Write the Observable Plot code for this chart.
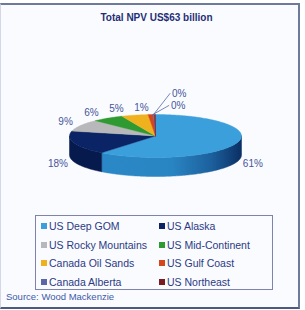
<!DOCTYPE html>
<html><head><meta charset="utf-8">
<script src="https://cdn.jsdelivr.net/npm/d3@7"></script>
<script src="https://cdn.jsdelivr.net/npm/@observablehq/plot@0.6"></script>
<style>
html,body{margin:0;padding:0;background:#fff;}
#wrap{position:relative;width:305px;height:310px;overflow:hidden;font-family:Arial,"Liberation Sans",sans-serif;}
#frame{position:absolute;left:0;top:3px;width:300px;height:306px;box-sizing:border-box;border-top:2px solid #6d7a9c;border-right:2px solid #6d7a9c;border-bottom:2px solid #4c5a80;border-left:1px solid #d4d8e6;background:#fafbfe;}
#chart{position:absolute;left:0;top:0;}
#legend{position:absolute;left:35px;top:215px;width:238px;height:75px;box-sizing:border-box;border:1px solid #7d83ad;display:grid;grid-template-columns:118px 1fr;grid-auto-rows:18.5px;padding:1px 0 0 5px;}
.item{display:flex;align-items:center;font-size:10.5px;color:#2b3a85;white-space:nowrap;}
.sw{width:6px;height:6px;margin-right:2px;flex:none;}
#source{position:absolute;left:6px;top:291px;font-size:9.5px;color:#3d5aa8;white-space:nowrap;}
</style>
</head><body>
<div id="wrap"><div id="frame"></div><div id="chart"></div><div id="legend"></div><div id="source"></div></div>
<script>
// ---- data ----
const categories = ["US Deep GOM","US Alaska","US Rocky Mountains","US Mid-Continent","Canada Oil Sands","US Gulf Coast","Canada Alberta","US Northeast"];
const npvShare = [61, 18, 9, 6, 5, 1, 0.2, 0.2];
const sliceColors = ["#3a9fdb","#0a2466","#b8b8ba","#2f9a31","#efb21e","#d6461c","#5a66a6","#7a1a22"];
const titleText = "Total NPV US$63 billion";
const sourceText = "Source: Wood Mackenzie";

// ---- layout ----
const W = 305, H = 200;
const cx = 155, cy = 135.5, rx = 86, ry = 21.5, depthPx = 19;
const D = depthPx / ry;
const ux = px => (px - cx) / rx;
const uy = py => (py - cy) / ry;

const total = d3.sum(npvShare);
const arcs = d3.pie().sort(null).value(d => d)(npvShare);
const step = Math.PI / 180;
function arcPts(a1, a2, off) {
  const n = Math.max(2, Math.ceil(Math.abs(a2 - a1) / step));
  return d3.range(n + 1).map(i => { const a = a1 + (a2 - a1) * i / n; return {x: Math.sin(a), y: -Math.cos(a) + off}; });
}
const tops = [], walls = [];
arcs.forEach((a, i) => {
  const key = categories[i];
  [{x:0,y:0}, ...arcPts(a.startAngle, a.endAngle, 0), {x:0,y:0}].forEach(p => tops.push({...p, key}));
  const lo = Math.max(a.startAngle, Math.PI/2), hi = Math.min(a.endAngle, 3*Math.PI/2);
  if (hi > lo) {
    const pts = [...arcPts(lo, hi, 0), ...arcPts(hi, lo, D)];
    pts.push(pts[0]);
    pts.forEach(p => walls.push({...p, key}));
  }
});

// labels
const labels = arcs.map((a, i) => {
  const m = (a.startAngle + a.endAngle) / 2;
  const pct = a.value / total * 100;
  const c = Math.cos(m), s = Math.sin(m);
  return {i, m, pct, text: Math.round(pct) + "%", x: 1.2 * s, y: -1.3 * c + (c < 0 ? D : 0), back: c > 0.6, zero: pct < 0.5};
});
// spread back labels leftwards to avoid overlap
const backs = labels.filter(l => l.back && !l.zero);
let limit = ux(cx - 14);
for (let j = backs.length - 1; j >= 0; j--) {
  backs[j].x = Math.min(backs[j].x, limit);
  limit = backs[j].x - 25 / rx;
}
const zeros = labels.filter(l => l.zero);
const leaders = [];
zeros.forEach((l, j) => {
  const ax = Math.sin(l.m), ay = -Math.cos(l.m);
  const lyPx = (cy - ry) - (9 + 12 * j);
  const lxPx = cx + rx * ax + 15;
  l.x = ux(lxPx + 2); l.y = uy(lyPx);
  leaders.push({x: ax - 0.02, y: ay + 0.02, k: j}, {x: ux(lxPx), y: uy(lyPx), k: j});
});
const normalLabels = labels.filter(l => !l.zero);

const chart = Plot.plot({
  width: W, height: H, margin: 0,
  x: {domain: [-1, 1], range: [cx - rx, cx + rx], axis: null},
  y: {domain: [-1, 1], range: [cy - ry, cy + ry], axis: null},
  color: {domain: categories, range: sliceColors},
  style: {fontFamily: "Arial, 'Liberation Sans', sans-serif", background: "transparent", overflow: "visible"},
  marks: [
    Plot.line(walls.filter(d => d.key === categories[0]), {x: "x", y: "y", z: "key", fill: "url(#wallBlue)", stroke: "url(#wallBlue)", strokeWidth: 0.5}),
    Plot.line(walls.filter(d => d.key !== categories[0]), {x: "x", y: "y", z: "key", fill: "#061a4e", stroke: "#061a4e", strokeWidth: 0.5}),
    Plot.line(tops, {x: "x", y: "y", z: "key", fill: "key", stroke: "key", strokeWidth: 0.4}),
    Plot.line(leaders, {x: "x", y: "y", z: "k", stroke: "#5a6aa2", strokeWidth: 0.8}),
    Plot.text(normalLabels, {x: "x", y: "y", text: "text", fontSize: 10, fill: "#45559a", textAnchor: "middle"}),
    Plot.text(zeros, {x: "x", y: "y", text: "text", fontSize: 10, fill: "#45559a", textAnchor: "start"}),
    Plot.text([titleText], {frameAnchor: "top", lineAnchor: "middle", dy: 17, dx: 3.5, fontSize: 10, fontWeight: "bold", fill: "#1f2f78"})
  ]
});
const defs = d3.select(chart).insert("defs", ":first-child");
const g = defs.append("linearGradient").attr("id", "wallBlue").attr("x1", 0).attr("x2", 1).attr("y1", 0).attr("y2", 0);
[[0, "#2b88c6"], [0.5, "#2985c2"], [0.78, "#1c619e"], [1, "#0b2f64"]].forEach(([o, c]) => g.append("stop").attr("offset", o).attr("stop-color", c));
document.getElementById("chart").appendChild(chart);

// legend
const leg = d3.select("#legend");
categories.forEach((c, i) => {
  const it = leg.append("div").attr("class", "item");
  it.append("span").attr("class", "sw").style("background", sliceColors[i]);
  it.append("span").text(c);
});
d3.select("#source").text(sourceText);
</script>
</body></html>
